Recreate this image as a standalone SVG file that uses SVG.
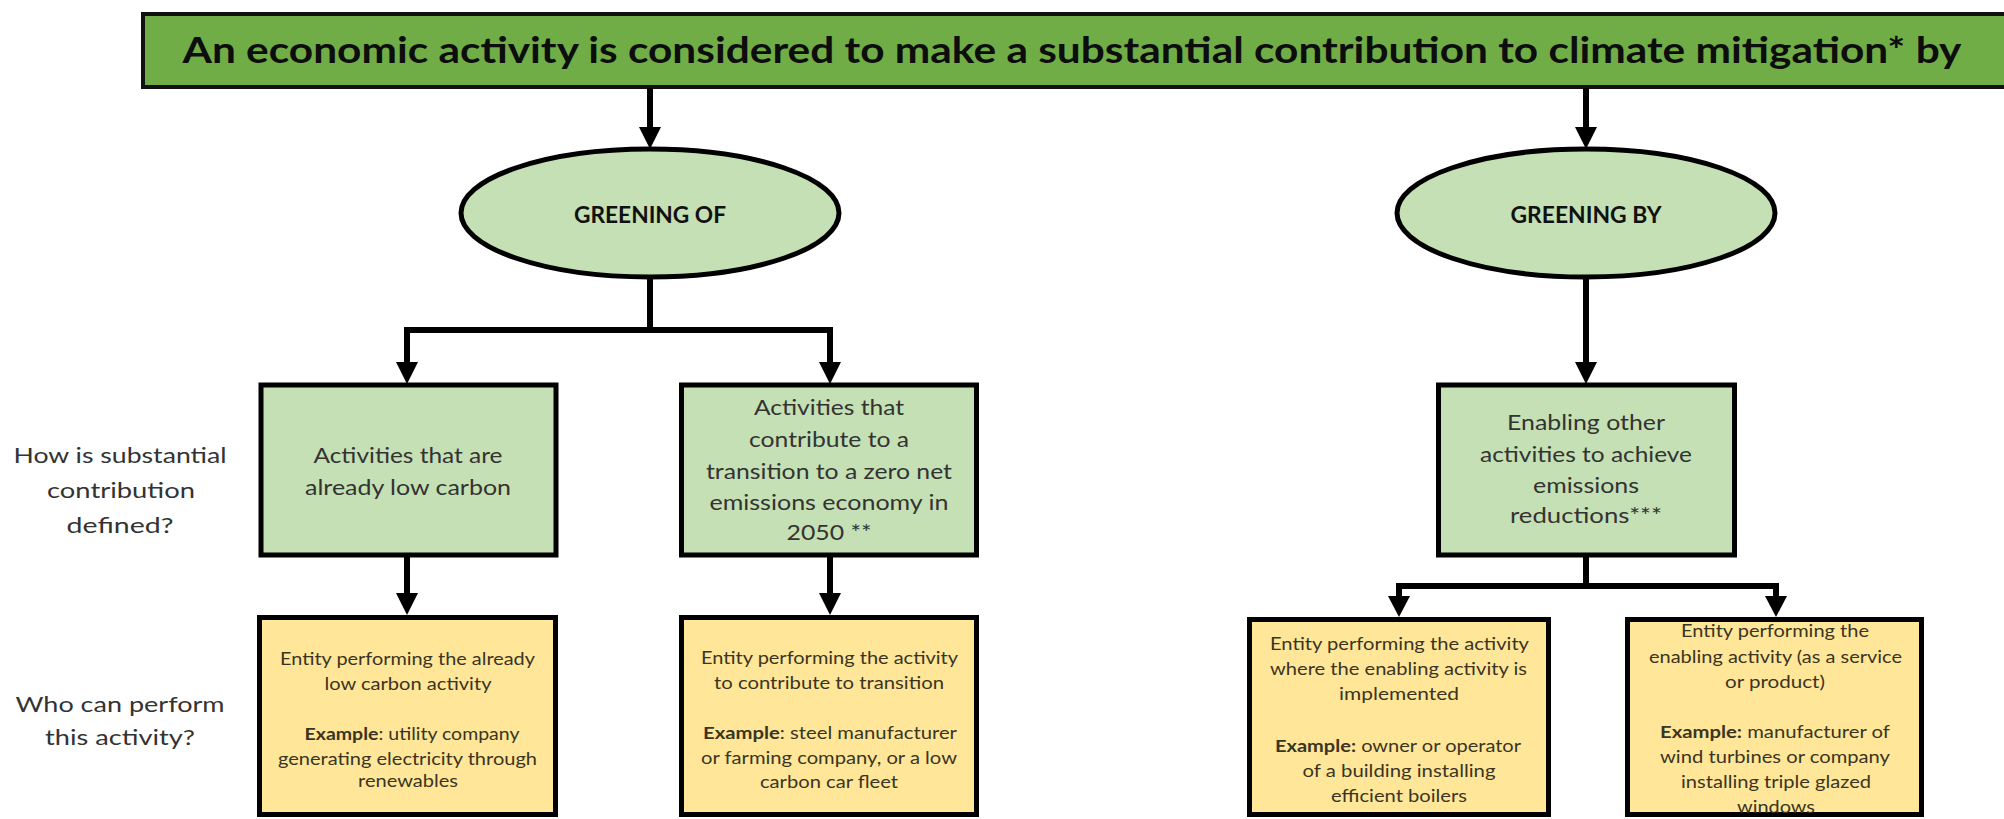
<svg xmlns="http://www.w3.org/2000/svg" width="2004" height="819" viewBox="0 0 2004 819">
<defs>
<style>
.box{stroke:#000;stroke-width:5}
.title{fill:#70AD47;stroke:#111;stroke-width:4}
.green{fill:#C5E0B4}
.yellow{fill:#FFE699}
.t{font-family:Lato,"Open Sans",sans-serif;text-anchor:middle;fill:#2f2f2f}
.tt{font-family:Lato,"Open Sans",sans-serif;text-anchor:middle;fill:#0d0d0d;font-weight:bold;font-size:37px}
.el{font-weight:bold;font-size:22px;fill:#111}
.lbl{font-size:22px;fill:#333}
.g{font-size:21px;fill:#333}
.y{font-size:17px;fill:#3a3522}
.b{font-weight:bold}
.conn line,.conn polyline{stroke:#000;stroke-width:6;fill:none}
.conn polygon{fill:#000}
</style>
</defs>

<g id="title">
<rect class="title" x="143" y="14" width="1880" height="73"/>
<text class="tt" x="1072" y="63" textLength="1779" lengthAdjust="spacingAndGlyphs">An economic activity is considered to make a substantial contribution to climate mitigation* by</text>
</g>

<g id="greening-of">
<ellipse class="box green" cx="650" cy="213" rx="189" ry="64"/>
<text class="t el" x="650" y="223" textLength="152" lengthAdjust="spacingAndGlyphs">GREENING OF</text>
</g>

<g id="greening-by">
<ellipse class="box green" cx="1586" cy="213" rx="189" ry="64"/>
<text class="t el" x="1586" y="223" textLength="151" lengthAdjust="spacingAndGlyphs">GREENING BY</text>
</g>

<g id="label-how">
<text class="t lbl" x="120" y="463" textLength="213" lengthAdjust="spacingAndGlyphs">How is substantial</text>
<text class="t lbl" x="121" y="498" textLength="148" lengthAdjust="spacingAndGlyphs">contribution</text>
<text class="t lbl" x="120" y="533" textLength="107" lengthAdjust="spacingAndGlyphs">defined?</text>
</g>

<g id="label-who">
<text class="t lbl" x="120" y="712" textLength="209" lengthAdjust="spacingAndGlyphs">Who can perform</text>
<text class="t lbl" x="120" y="745" textLength="150" lengthAdjust="spacingAndGlyphs">this activity?</text>
</g>

<g id="low-carbon">
<rect class="box green" x="261" y="385" width="295" height="170"/>
<text class="t g" x="408" y="463" textLength="189" lengthAdjust="spacingAndGlyphs">Activities that are</text>
<text class="t g" x="408" y="495" textLength="206" lengthAdjust="spacingAndGlyphs">already low carbon</text>
</g>

<g id="transition">
<rect class="box green" x="681.5" y="385" width="295" height="170"/>
<text class="t g" x="829" y="415" textLength="150" lengthAdjust="spacingAndGlyphs">Activities that</text>
<text class="t g" x="829" y="447" textLength="160" lengthAdjust="spacingAndGlyphs">contribute to a</text>
<text class="t g" x="829" y="479" textLength="246" lengthAdjust="spacingAndGlyphs">transition to a zero net</text>
<text class="t g" x="829" y="510" textLength="239" lengthAdjust="spacingAndGlyphs">emissions economy in</text>
<text class="t g" x="829" y="540" textLength="85" lengthAdjust="spacingAndGlyphs">2050 **</text>
</g>

<g id="enabling">
<rect class="box green" x="1438.5" y="385" width="296" height="170"/>
<text class="t g" x="1586" y="430" textLength="158" lengthAdjust="spacingAndGlyphs">Enabling other</text>
<text class="t g" x="1586" y="462" textLength="212" lengthAdjust="spacingAndGlyphs">activities to achieve</text>
<text class="t g" x="1586" y="493" textLength="106" lengthAdjust="spacingAndGlyphs">emissions</text>
<text class="t g" x="1586" y="523" textLength="152" lengthAdjust="spacingAndGlyphs">reductions***</text>
</g>

<g id="entity-low-carbon">
<rect class="box yellow" x="259.5" y="617.5" width="296" height="197"/>
<text class="t y" x="407.5" y="665" textLength="255" lengthAdjust="spacingAndGlyphs">Entity performing the already</text>
<text class="t y" x="408" y="690" textLength="167" lengthAdjust="spacingAndGlyphs">low carbon activity</text>
<text class="t y" x="412" y="740" textLength="215" lengthAdjust="spacingAndGlyphs"><tspan class="b">Example</tspan>: utility company</text>
<text class="t y" x="407.5" y="765" textLength="259" lengthAdjust="spacingAndGlyphs">generating electricity through</text>
<text class="t y" x="408" y="787" textLength="100" lengthAdjust="spacingAndGlyphs">renewables</text>
</g>

<g id="entity-transition">
<rect class="box yellow" x="681.5" y="617.5" width="295" height="197"/>
<text class="t y" x="829.5" y="664" textLength="257" lengthAdjust="spacingAndGlyphs">Entity performing the activity</text>
<text class="t y" x="829" y="689" textLength="230" lengthAdjust="spacingAndGlyphs">to contribute to transition</text>
<text class="t y" x="830" y="739" textLength="254" lengthAdjust="spacingAndGlyphs"><tspan class="b">Example</tspan>: steel manufacturer</text>
<text class="t y" x="829" y="764" textLength="256" lengthAdjust="spacingAndGlyphs">or farming company, or a low</text>
<text class="t y" x="829" y="788" textLength="138" lengthAdjust="spacingAndGlyphs">carbon car fleet</text>
</g>

<g id="entity-implemented">
<rect class="box yellow" x="1249.5" y="619.5" width="299" height="195"/>
<text class="t y" x="1399.5" y="650" textLength="259" lengthAdjust="spacingAndGlyphs">Entity performing the activity</text>
<text class="t y" x="1398.5" y="675" textLength="257" lengthAdjust="spacingAndGlyphs">where the enabling activity is</text>
<text class="t y" x="1399" y="700" textLength="120" lengthAdjust="spacingAndGlyphs">implemented</text>
<text class="t y" x="1398" y="752" textLength="246" lengthAdjust="spacingAndGlyphs"><tspan class="b">Example:</tspan> owner or operator</text>
<text class="t y" x="1399" y="777" textLength="193" lengthAdjust="spacingAndGlyphs">of a building installing</text>
<text class="t y" x="1399" y="802" textLength="136" lengthAdjust="spacingAndGlyphs">efficient boilers</text>
</g>

<g id="entity-enabling">
<rect class="box yellow" x="1627.5" y="619.5" width="294" height="195"/>
<text class="t y" x="1775" y="637" textLength="188" lengthAdjust="spacingAndGlyphs">Entity performing the</text>
<text class="t y" x="1775.5" y="663" textLength="253" lengthAdjust="spacingAndGlyphs">enabling activity (as a service</text>
<text class="t y" x="1775" y="688" textLength="100" lengthAdjust="spacingAndGlyphs">or product)</text>
<text class="t y" x="1775" y="738" textLength="230" lengthAdjust="spacingAndGlyphs"><tspan class="b">Example:</tspan> manufacturer of</text>
<text class="t y" x="1775" y="763" textLength="230" lengthAdjust="spacingAndGlyphs">wind turbines or company</text>
<text class="t y" x="1776" y="788" textLength="190" lengthAdjust="spacingAndGlyphs">installing triple glazed</text>
<text class="t y" x="1776" y="813" textLength="78" lengthAdjust="spacingAndGlyphs">windows</text>
</g>

<g id="connectors" class="conn">
<line x1="650" y1="88" x2="650" y2="129"/>
<polygon points="639,127 661,127 650,149"/>
<line x1="1586" y1="88" x2="1586" y2="129"/>
<polygon points="1575,127 1597,127 1586,149"/>

<polyline points="650,277 650,330"/>
<polyline points="407,364 407,330 830,330 830,364"/>
<polygon points="396,362 418,362 407,384"/>
<polygon points="819,362 841,362 830,384"/>

<line x1="1586" y1="277" x2="1586" y2="364"/>
<polygon points="1575,362 1597,362 1586,384"/>

<line x1="407" y1="557" x2="407" y2="595"/>
<polygon points="396,593 418,593 407,615"/>
<line x1="830" y1="557" x2="830" y2="595"/>
<polygon points="819,593 841,593 830,615"/>

<polyline points="1586,557 1586,586"/>
<polyline points="1399,598 1399,586 1776,586 1776,598"/>
<polygon points="1388,596 1410,596 1399,617"/>
<polygon points="1765,596 1787,596 1776,617"/>
</g>
</svg>
